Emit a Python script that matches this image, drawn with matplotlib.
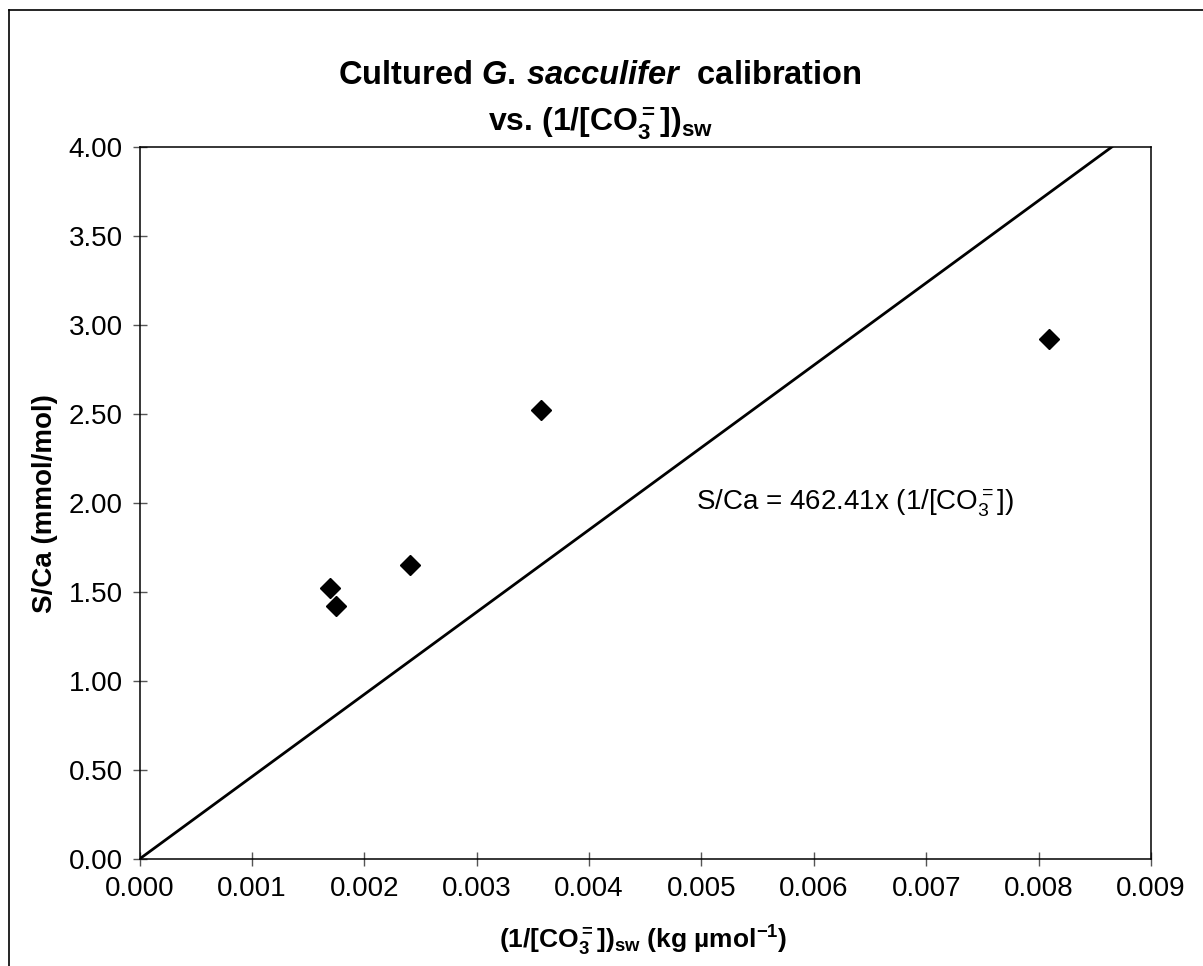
import numpy as np
import matplotlib
matplotlib.use("Agg")
import matplotlib.pyplot as plt
from matplotlib.lines import Line2D

# S/Ca of cultured G. sacculifer against inverse seawater carbonate ion
inv_co3 = [0.001698, 0.001748, 0.002410, 0.003570, 0.008090]
s_ca = [1.52, 1.42, 1.65, 2.52, 2.92]
slope = 462.41  # regression forced through the origin

x_ticks = [0.000, 0.001, 0.002, 0.003, 0.004, 0.005, 0.006, 0.007, 0.008, 0.009]
y_ticks = [0.00, 0.50, 1.00, 1.50, 2.00, 2.50, 3.00, 3.50, 4.00]

plt.rcParams['font.family'] = ['Liberation Sans', 'DejaVu Sans']
plt.rcParams['mathtext.fontset'] = 'custom'
plt.rcParams['mathtext.rm'] = 'Liberation Sans:bold'
plt.rcParams['mathtext.bf'] = 'Liberation Sans:bold'
plt.rcParams['mathtext.it'] = 'Liberation Sans:italic:bold'
plt.rcParams['mathtext.sf'] = 'Liberation Sans'

fig = plt.figure(figsize=(12.03, 9.66), dpi=100)
ax = fig.add_axes([0.116, 0.1108, 0.8408, 0.737])

ax.plot(inv_co3, s_ca, linestyle='none', marker='D', markersize=10,
        color='black')

x_fit = np.array([0.0, 4.0 / slope])
ax.plot(x_fit, slope * x_fit, color='black', linewidth=2)

ax.set_xlim(0, 0.009)
ax.set_ylim(0, 4)
ax.set_xticks(x_ticks)
ax.set_yticks(y_ticks)
ax.set_xticklabels([f"{v:.3f}" for v in x_ticks])
ax.set_yticklabels([f"{v:.2f}" for v in y_ticks])
ax.tick_params(direction='inout', length=10, width=1, color='#555555',
               labelsize=20, pad=7)
for sp in ax.spines.values():
    sp.set_linewidth(1.1)
    sp.set_color('black')

ax.text(0.00495, 2.0, r"S/Ca = 462.41x (1/[CO$\mathsf{_3^=}$])",
        fontsize=20, va='center', ha='left')

fig.text(0.499, 0.922,
         r"Cultured $\mathit{G.\,sacculifer}$  calibration",
         fontsize=23.5, fontweight='bold', ha='center', va='center')
fig.text(0.499, 0.872, r"vs. (1/[CO$_3^=$])$_{\mathrm{sw}}$",
         fontsize=23, fontweight='bold', ha='center', va='center')

fig.text(0.535, 0.026, r"(1/[CO$_3^=$])$_{\mathrm{sw}}$ (kg µmol$^{\mathrm{-1}}$)",
         fontsize=19, fontweight='bold', ha='center', va='center')
fig.text(0.037, 0.479, "S/Ca (mmol/mol)", fontsize=20, fontweight='bold',
         rotation=90, ha='center', va='center')

# frame around the chart area
fig.add_artist(Line2D([0.0075, 0.0075], [0.0, 0.9896], color='black',
                      linewidth=1.2, transform=fig.transFigure))
fig.add_artist(Line2D([0.0075, 1.0], [0.9896, 0.9896], color='black',
                      linewidth=1.2, transform=fig.transFigure))

fig.savefig("out.png", dpi=100)
